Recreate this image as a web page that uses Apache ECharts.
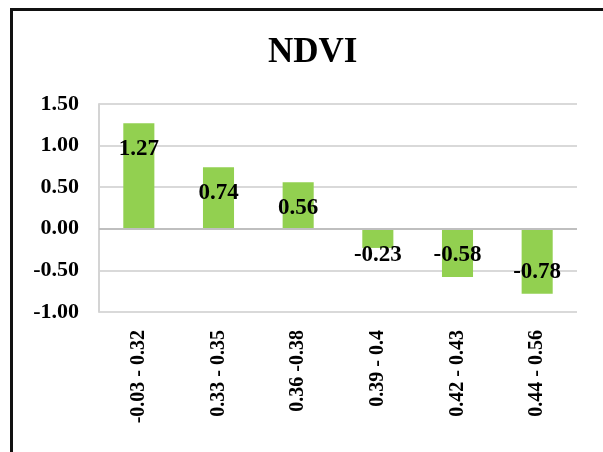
<!DOCTYPE html>
<html>
<head>
<meta charset="utf-8">
<script src="https://cdn.jsdelivr.net/npm/echarts@6/dist/echarts.min.js"></script>
<style>
  html, body { margin: 0; padding: 0; background: #fff; }
  #wrap { position: relative; width: 603px; height: 452px; overflow: hidden; }
  #chart { position: absolute; left: 0; top: 0; width: 603px; height: 452px; }
  #frame {
    position: absolute; left: 10px; top: 8px; width: 700px; height: 500px;
    border-top: 3px solid #111; border-left: 3px solid #111; pointer-events: none;
  }
</style>
</head>
<body>
<div id="wrap">
  <div id="chart"></div>
  <div id="frame"></div>
</div>
<script>
  // NDVI classes and their values
  const categories = ['-0.03 - 0.32', '0.33 - 0.35', '0.36 -0.38', '0.39 - 0.4', '0.42 - 0.43', '0.44 - 0.56'];
  const values = [1.27, 0.74, 0.56, -0.23, -0.58, -0.78];
  const yTicks = [-1.0, -0.5, 0.0, 0.5, 1.0, 1.5];

  const serif = '"Liberation Serif", "Times New Roman", serif';

  // label sits inside the bar end, unless the bar is too short
  const barData = values.map((v) => {
    let label;
    if (v >= 0) {
      label = { position: 'insideTop', distance: 14 };
    } else if (v > -0.3) {
      label = { position: 'bottom', distance: 0, offset: [0, -4] };
    } else {
      label = { position: 'insideBottom', distance: 10 };
    }
    return { value: v, label };
  });

  const chart = echarts.init(document.getElementById('chart'));
  const option = {
    backgroundColor: '#ffffff',
    animation: false,
    title: {
      text: 'NDVI',
      left: 263,
      top: 30,
      textStyle: { fontFamily: serif, fontWeight: 'bold', fontSize: 35, color: '#000' },
    },
    grid: { left: 99, right: 26, top: 104, bottom: 140 },
    xAxis: {
      type: 'category',
      data: categories,
      axisLine: { show: false, onZero: false },
      axisTick: { show: false },
      axisLabel: {
        rotate: 90,
        margin: 18,
        fontFamily: serif,
        fontWeight: 'bold',
        fontSize: 20,
        color: '#000',
      },
    },
    yAxis: {
      type: 'value',
      min: yTicks[0],
      max: yTicks[yTicks.length - 1],
      interval: 0.5,
      axisLine: { show: true, lineStyle: { color: '#d4d4d4', width: 2 } },
      axisTick: { show: false },
      splitLine: { lineStyle: { color: '#d9d9d9', width: 2 } },
      axisLabel: {
        margin: 20,
        fontFamily: serif,
        fontWeight: 'bold',
        fontSize: 22,
        color: '#000',
        formatter: (v) => v.toFixed(2),
      },
    },
    series: [
      {
        type: 'bar',
        data: barData,
        barWidth: '39%',
        itemStyle: { color: '#92D050' },
        label: {
          show: true,
          fontFamily: serif,
          fontWeight: 'bold',
          fontSize: 23,
          color: '#000',
          formatter: (p) => p.value.toFixed(2),
        },
        markLine: {
          silent: true,
          symbol: 'none',
          label: { show: false },
          lineStyle: { color: '#bfbfbf', width: 2, type: 'solid' },
          data: [{ yAxis: 0 }],
        },
      },
    ],
  };
  chart.setOption(option);
</script>
</body>
</html>
